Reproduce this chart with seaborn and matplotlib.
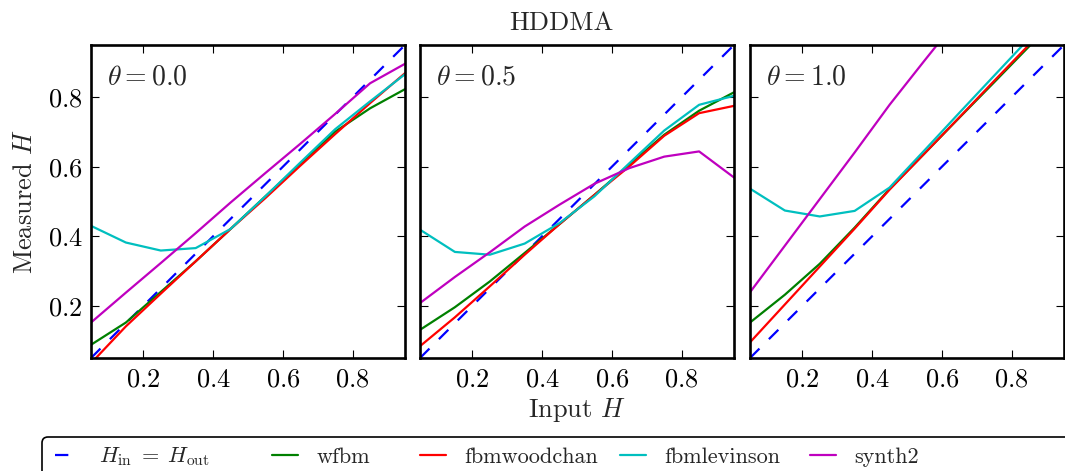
import numpy as np
import pandas as pd
import matplotlib
matplotlib.use("Agg")
import matplotlib.pyplot as plt
import matplotlib.patches as mpatches
from matplotlib.lines import Line2D
import seaborn as sns

# Input Hurst exponents
h_in = [0.05, 0.15, 0.25, 0.35, 0.45, 0.55, 0.65, 0.75, 0.85, 0.95]
thetas = ["0.0", "0.5", "1.0"]

# Measured H per generator, one list per theta
wfbm = [
    [0.088, 0.152, 0.240, 0.328, 0.421, 0.515, 0.608, 0.701, 0.768, 0.823],
    [0.131, 0.196, 0.270, 0.352, 0.435, 0.519, 0.606, 0.692, 0.761, 0.814],
    [0.152, 0.232, 0.321, 0.425, 0.536, 0.638, 0.741, 0.843, 0.946, 1.050],
]
fbmwoodchan = [
    [0.035, 0.141, 0.235, 0.328, 0.421, 0.510, 0.603, 0.694, 0.783, 0.869],
    [0.084, 0.167, 0.256, 0.347, 0.435, 0.519, 0.601, 0.689, 0.754, 0.775],
    [0.095, 0.204, 0.313, 0.422, 0.534, 0.638, 0.742, 0.847, 0.951, 1.055],
]
fbmlevinson = [
    [0.430, 0.382, 0.359, 0.366, 0.421, 0.515, 0.612, 0.708, 0.788, 0.866],
    [0.419, 0.355, 0.347, 0.379, 0.438, 0.515, 0.610, 0.704, 0.778, 0.804],
    [0.537, 0.474, 0.457, 0.473, 0.540, 0.647, 0.755, 0.862, 0.969, 1.076],
]
synth2 = [
    [0.152, 0.238, 0.323, 0.409, 0.497, 0.582, 0.666, 0.752, 0.840, 0.896],
    [0.208, 0.283, 0.354, 0.428, 0.491, 0.551, 0.596, 0.629, 0.644, 0.569],
    [0.239, 0.373, 0.507, 0.641, 0.778, 0.905, 1.030, 1.160, 1.280, 1.400],
]

methods = ["wfbm", "fbmwoodchan", "fbmlevinson", "synth2"]
series = [wfbm, fbmwoodchan, fbmlevinson, synth2]
palette = {"wfbm": (0.0, 0.5, 0.0), "fbmwoodchan": (1.0, 0.0, 0.0),
           "fbmlevinson": (0.0, 0.75, 0.75), "synth2": (0.75, 0.0, 0.75)}
ident_color = (0.0, 0.0, 1.0)
ident_label = r"$H_{\mathrm{in}}\;=\;H_{\mathrm{out}}$"
LW = 1.6
DASH = [6.0, 6.0]

sns.set_style("white")
plt.rcParams.update({
    "font.family": ["cmr10", "DejaVu Serif"],
    "mathtext.fontset": "cm",
    "axes.formatter.use_mathtext": True,
    "font.size": 19,
    "axes.linewidth": 1.9,
    "axes.edgecolor": "black",
    "xtick.direction": "in",
    "ytick.direction": "in",
    "xtick.top": True,
    "ytick.right": True,
    "xtick.bottom": True,
    "ytick.left": True,
    "xtick.major.size": 6,
    "ytick.major.size": 6,
    "xtick.major.width": 0.8,
    "ytick.major.width": 0.8,
    "xtick.major.pad": 7,
    "ytick.major.pad": 6,
    "xtick.color": "black",
    "ytick.color": "black",
    "xtick.labelsize": 19,
    "ytick.labelsize": 19,
})

W, H = 1065, 471
fig = plt.figure(figsize=(W / 100, H / 100), dpi=100)

lefts = [91, 420, 750]
ax_w, ax_top, ax_bot = 314, 45, 358
axes = []
for i, lx in enumerate(lefts):
    ax = fig.add_axes([lx / W, (H - ax_bot) / H, ax_w / W, (ax_bot - ax_top) / H])
    axes.append(ax)

    # identity reference line
    ident = pd.DataFrame({"H": h_in, "v": h_in})
    sns.lineplot(data=ident, x="H", y="v", ax=ax, color=ident_color,
                 lw=LW, legend=False)
    ax.lines[-1].set_dashes(DASH)

    rows = []
    for m, s in zip(methods, series):
        for x, y in zip(h_in, s[i]):
            rows.append({"H": x, "v": y, "method": m})
    df = pd.DataFrame(rows)
    sns.lineplot(data=df, x="H", y="v", hue="method", hue_order=methods,
                 palette=palette, ax=ax, lw=LW, legend=False)

    ax.set_xlim(0.05, 0.95)
    ax.set_ylim(0.05, 0.95)
    ax.set_xticks([0.2, 0.4, 0.6, 0.8])
    ax.set_yticks([0.2, 0.4, 0.6, 0.8])
    ax.set_xlabel("")
    ax.set_ylabel("")
    if i > 0:
        ax.set_yticklabels([])
    for sp in ax.spines.values():
        sp.set_visible(True)
        sp.set_linewidth(1.9)
        sp.set_color("black")
    ax.text(0.05, 0.94, r"$\theta = %s$" % thetas[i], transform=ax.transAxes,
            ha="left", va="top", fontsize=20)

axes[0].set_ylabel("Measured $H$", fontsize=19, labelpad=8)
fig.text(577 / W, 1 - 410 / H, "Input $H$", ha="center", va="center", fontsize=19)
fig.text(561 / W, 1 - 23 / H, "HDDMA", ha="center", va="center", fontsize=19)

# shared legend row along the bottom, one key per column
handles = [Line2D([], [], color=ident_color, lw=LW, dashes=DASH)]
labels = [ident_label]
for m in methods:
    handles.append(Line2D([], [], color=palette[m], lw=LW))
    labels.append(m)

col_x = [55, 272, 420, 620, 810]
for h, l, x in zip(handles, labels, col_x):
    fig.legend([h], [l], loc="center left", bbox_to_anchor=(x / W, 1 - 457 / H),
               frameon=False, borderpad=0, borderaxespad=0, handlelength=1.15,
               handletextpad=0.85, fontsize=16)

frame = mpatches.FancyBboxPatch((0.42, -0.5), 11.0, 0.5 + (H - 437) / 100,
                                boxstyle="round,pad=0,rounding_size=0.06",
                                transform=fig.dpi_scale_trans, fill=False,
                                edgecolor="black", linewidth=1.2)
fig.add_artist(frame)

fig.savefig("out.png", dpi=100)
